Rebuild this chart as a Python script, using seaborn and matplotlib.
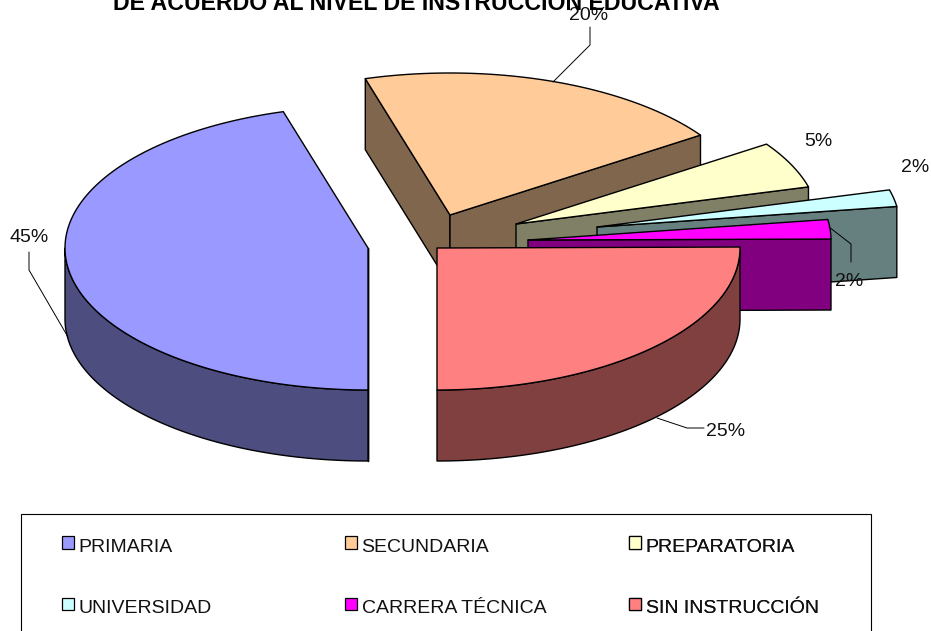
import numpy as np
import matplotlib
matplotlib.use("Agg")
import matplotlib.pyplot as plt
from matplotlib.legend_handler import HandlerPatch
from matplotlib.patches import Patch, Polygon, Rectangle
import seaborn as sns

# ---------- data ----------
title = "DE ACUERDO AL NIVEL DE INSTRUCCIÓN EDUCATIVA"
categories = ["PRIMARIA", "SECUNDARIA", "PREPARATORIA", "UNIVERSIDAD", "CARRERA TÉCNICA", "SIN INSTRUCCIÓN"]
values = [45.49, 20.0, 5.3, 1.9, 2.2, 25.11]
colors = ["#9999FF", "#FFCC99", "#FFFFCC", "#CCFFFF", "#FF00FF", "#FF8080"]

# ---------- layout (pixels of the 931x631 canvas) ----------
apex_x = [368, 450, 516, 597, 528, 437]
apex_y = [248, 215, 224, 227, 240, 248]
RX, RY, DEPTH = 303, 142, 71
START = 180.0  # clock angle of the first slice

label_x = [29, 589, 818, 915, 849, 726]
label_y = [238, 15, 142, 167, 282, 432]
leader_x = [[29, 29, 68], [590, 590, 553], [], [], [851, 851, 829], [704, 687, 657]]
leader_y = [[252, 270, 337], [27, 45, 82], [], [], [262, 244, 227], [428, 428, 418]]

sns.set_theme(style="white")
plt.rcParams["font.family"] = ["Liberation Sans", "DejaVu Sans"]
palette = sns.color_palette(colors)
sides = [tuple(c * 0.5 for c in col) for col in palette]

fig, ax = plt.subplots(figsize=(9.31, 6.31), dpi=100)
ax.set_position([0, 0, 1, 1])
ax.set_xlim(0, 931)
ax.set_ylim(631, 0)
ax.axis("off")

LW = 1.0


def rim(cx, cy, a0, a1, n=120):
    t = np.radians(np.linspace(a0, a1, n))
    return cx + RX * np.sin(t), cy - RY * np.cos(t)


def face(xs, ys, color, z):
    ax.add_patch(Polygon(np.column_stack([xs, ys]), closed=True, facecolor=color,
                         edgecolor="black", linewidth=LW, joinstyle="round", zorder=z))


fractions = np.asarray(values) / np.sum(values) * 360.0
ends = START + np.cumsum(fractions)
starts = ends - fractions

for i, (a0, a1) in enumerate(zip(starts, ends)):
    cx, cy = apex_x[i], apex_y[i]
    z = 2 + i
    # radial cut faces
    s = a0 % 360
    if 180 < s < 360:
        xs, ys = rim(cx, cy, a0, a0, 1)
        face([cx, xs[0], xs[0], cx], [cy, ys[0], ys[0] + DEPTH, cy + DEPTH], sides[i], z)
    e = a1 % 360
    if 0 < e < 180:
        xs, ys = rim(cx, cy, a1, a1, 1)
        face([cx, xs[0], xs[0], cx], [cy, ys[0], ys[0] + DEPTH, cy + DEPTH], sides[i], z)
    # outer wall, only where it faces the viewer
    span = a1 - a0
    lo, hi = max(s, 90), min(s + span, 270)
    if hi > lo:
        xs, ys = rim(cx, cy, lo, hi)
        face(np.r_[xs, xs[::-1]], np.r_[ys, ys[::-1] + DEPTH], sides[i], z)
    # top face
    xs, ys = rim(cx, cy, a0, a1)
    face(np.r_[cx, xs], np.r_[cy, ys], palette[i], z)

# percentage labels and leader lines
for i, v in enumerate(values):
    if leader_x[i]:
        ax.plot(leader_x[i], leader_y[i], color="black", lw=0.7, zorder=20)
    ax.text(label_x[i], label_y[i], f"{v:.0f}%", ha="center", va="center",
            fontsize=14, color="#111111", zorder=21)

ax.text(416, 10, title, ha="center", va="baseline", fontsize=16.7,
        fontweight="bold", color="black", zorder=22)

# legend frame runs off the bottom of the canvas
ax.add_patch(Rectangle((21, 514), 850, 130, facecolor="white", edgecolor="black",
                       linewidth=0.8, zorder=1))


def raised_box(legend, orig_handle, xdescent, ydescent, width, height, fontsize):
    return Rectangle((-xdescent, -ydescent + 2.0), width, height)


# one legend per column, to keep the uneven column positions of the reference
col_x = [62, 345, 629]
for c, x in enumerate(col_x):
    idx = [c, c + 3]
    handles = [Patch(facecolor=palette[k], edgecolor="black", linewidth=0.9,
                     label=categories[k]) for k in idx]
    leg = ax.legend(handles=handles, loc="upper left", bbox_to_anchor=(x, 539),
                    bbox_transform=ax.transData, frameon=False, fontsize=14,
                    handlelength=0.62, handleheight=0.62, handletextpad=0.23,
                    labelspacing=2.27, borderpad=0, borderaxespad=0, labelcolor="#111111",
                    handler_map={Patch: HandlerPatch(patch_func=raised_box)})
    leg.set_zorder(23)
    ax.add_artist(leg)

fig.savefig("out.png", dpi=100, facecolor="white")
